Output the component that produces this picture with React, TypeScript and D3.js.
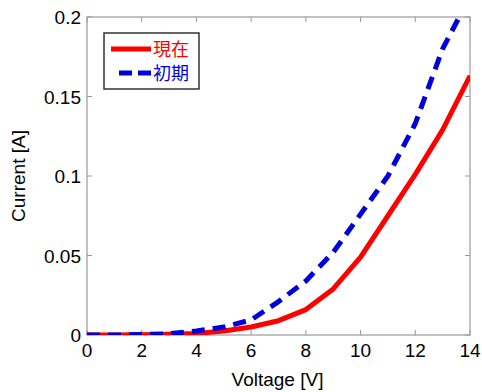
import React from "react";
import * as d3 from "d3";

const voltage = [0, 1, 2, 3, 4, 5, 6, 7, 8, 9, 10, 11, 12, 13, 14];
const currentNow = [0, 0, 0.0002, 0.0005, 0.001, 0.0025, 0.005, 0.009, 0.016, 0.029, 0.049, 0.075, 0.101, 0.129, 0.163];
const currentInitial = [0, 0, 0.0003, 0.0008, 0.0025, 0.005, 0.0095, 0.021, 0.034, 0.052, 0.076, 0.1, 0.133, 0.18, 0.213];
const xTicks = [0, 2, 4, 6, 8, 10, 12, 14];
const yTicks = [0, 0.05, 0.1, 0.15, 0.2];
const yTickLabels = ["0", "0.05", "0.1", "0.15", "0.2"];
const seriesNames = ["現在", "初期"];

const W = 482, H = 392;
const L = 87, R = 470, T = 17, B = 335;
const FONT = "'Liberation Sans', Arial, sans-serif";
const CJK = "'Noto Sans CJK JP', sans-serif";

export default function App() {
  const x = d3.scaleLinear().domain([0, 14]).range([L, R]);
  const y = d3.scaleLinear().domain([0, 0.2]).range([B, T]);
  const line = d3.line<number>().x((_, i) => x(voltage[i])).y((d) => y(d));
  const axisColor = "#999";
  return (
    <svg width={W} height={H} style={{ position: "absolute", left: 0, top: 0, background: "#fff" }}>
      <defs>
        <clipPath id="plot">
          <rect x={L} y={T} width={R - L} height={B - T} />
        </clipPath>
      </defs>
      <rect x={0} y={0} width={W} height={H} fill="#fff" />
      {xTicks.map((t) => (
        <g key={"x" + t}>
          <line x1={x(t)} x2={x(t)} y1={B} y2={B - 5} stroke={axisColor} strokeWidth={1} />
          <line x1={x(t)} x2={x(t)} y1={T} y2={T + 5} stroke={axisColor} strokeWidth={1} />
          <text x={x(t)} y={B + 22} textAnchor="middle" fontFamily={FONT} fontSize={19} fill="#000">{t}</text>
        </g>
      ))}
      {yTicks.map((t, i) => (
        <g key={"y" + t}>
          <line x1={L} x2={L + 5} y1={y(t)} y2={y(t)} stroke={axisColor} strokeWidth={1} />
          <line x1={R} x2={R - 5} y1={y(t)} y2={y(t)} stroke={axisColor} strokeWidth={1} />
          <text x={L - 6} y={y(t) + 7} textAnchor="end" fontFamily={FONT} fontSize={19} fill="#000">{yTickLabels[i]}</text>
        </g>
      ))}
      <rect x={L} y={T} width={R - L} height={B - T} fill="none" stroke={axisColor} strokeWidth={1.2} />
      <g clipPath="url(#plot)">
        <path d={line(currentNow) || ""} fill="none" stroke="#ff0000" strokeWidth={5} strokeLinejoin="round" />
        <path d={line(currentInitial) || ""} fill="none" stroke="#0000dd" strokeWidth={5} strokeDasharray="13,8" strokeLinejoin="round" />
      </g>
      <text x={(L + R) / 2 - 1} y={386} textAnchor="middle" fontFamily={FONT} fontSize={19} fill="#000">Voltage [V]</text>
      <text transform={`translate(25,${(T + B) / 2}) rotate(-90)`} textAnchor="middle" fontFamily={FONT} fontSize={19} fill="#000">Current [A]</text>
      <g>
        <rect x={104} y={33} width={95} height={56} fill="#fff" stroke="#333" strokeWidth={1.5} />
        <line x1={111} x2={151} y1={49} y2={49} stroke="#ff0000" strokeWidth={5} />
        <text x={153} y={56} fontFamily={CJK} fontSize={18} fill="#ff0000">{seriesNames[0]}</text>
        <line x1={119} x2={151} y1={73} y2={73} stroke="#0000dd" strokeWidth={5} strokeDasharray="13,6" />
        <text x={153} y={80} fontFamily={CJK} fontSize={18} fill="#0000dd">{seriesNames[1]}</text>
      </g>
    </svg>
  );
}
